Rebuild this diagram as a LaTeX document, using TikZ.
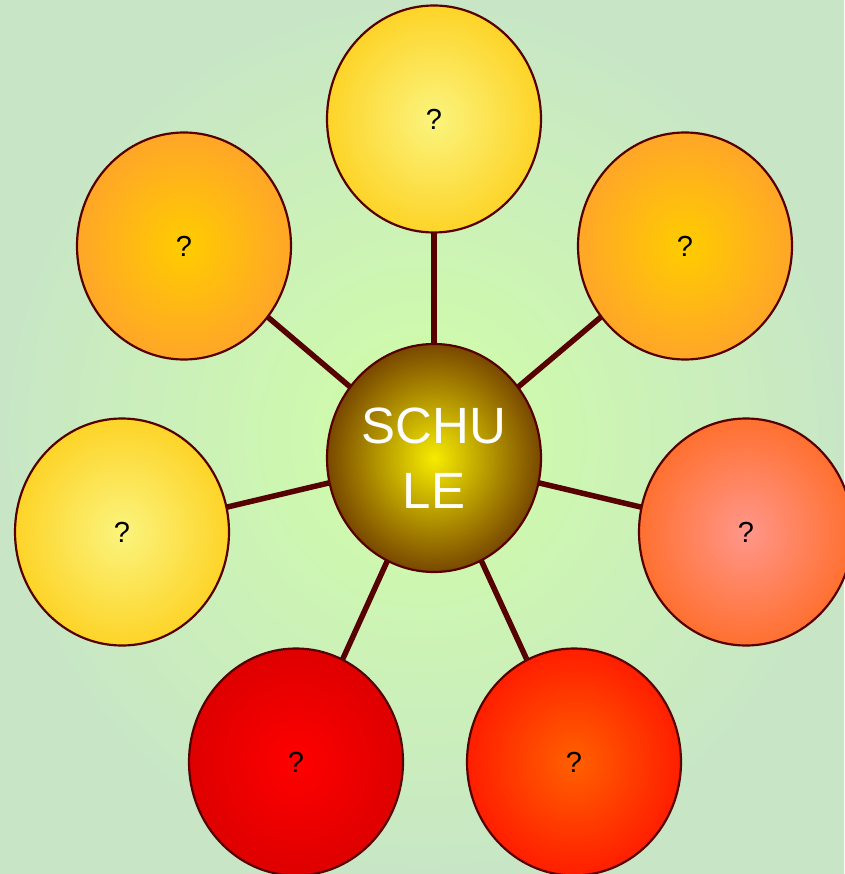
\documentclass[tikz,border=0pt]{standalone}
\usepackage{fontspec}
\setmainfont{Liberation Sans}
\usetikzlibrary{shapes.geometric,backgrounds}
\definecolor{edgec}{HTML}{560000}
\tikzset{
  x=1pt, y=-1pt,
  bubble/.style={ellipse, draw=edgec, line width=2.2pt, minimum width=214pt, minimum height=227pt, inner sep=0pt, font=\fontsize{29}{32}\selectfont, text=black},
  link/.style={draw=edgec, line width=5.5pt},
}
\begin{document}
\begin{tikzpicture}
\useasboundingbox (0,0) rectangle (844,874);
\node[bubble, minimum height=228pt, inner color={rgb,255:red,246;green,236;blue,0}, outer color={rgb,255:red,120;green,72;blue,0}, text=white, align=center, font=\fontsize{51}{65}\selectfont] (c) at (434,458) {SCHU\\LE};
\node[bubble, inner color={rgb,255:red,251;green,244;blue,126}, outer color={rgb,255:red,253;green,212;blue,40}] (t) at (434,119) {?};
\node[bubble, inner color={rgb,255:red,255;green,204;blue,0}, outer color={rgb,255:red,255;green,166;blue,40}] (ul) at (184,246) {?};
\node[bubble, inner color={rgb,255:red,255;green,204;blue,0}, outer color={rgb,255:red,255;green,166;blue,40}] (ur) at (685,246) {?};
\node[bubble, inner color={rgb,255:red,251;green,244;blue,126}, outer color={rgb,255:red,253;green,212;blue,40}] (l) at (122,532) {?};
\node[bubble, inner color={rgb,255:red,255;green,150;blue,138}, outer color={rgb,255:red,255;green,112;blue,48}] (r) at (746,532) {?};
\node[bubble, inner color={rgb,255:red,255;green,0;blue,0}, outer color={rgb,255:red,222;green,0;blue,0}] (bl) at (296,762) {?};
\node[bubble, inner color={rgb,255:red,255;green,96;blue,0}, outer color={rgb,255:red,255;green,30;blue,0}] (br) at (574,762) {?};
\begin{scope}[on background layer]
\shade[inner color={rgb,255:red,208;green,255;blue,166}, outer color={rgb,255:red,200;green,230;blue,198}] (0,0) rectangle (844,874);
\foreach \n in {t,ul,ur,l,r,bl,br} \draw[link] (c.center) -- (\n.center);
\end{scope}
\end{tikzpicture}
\end{document}
